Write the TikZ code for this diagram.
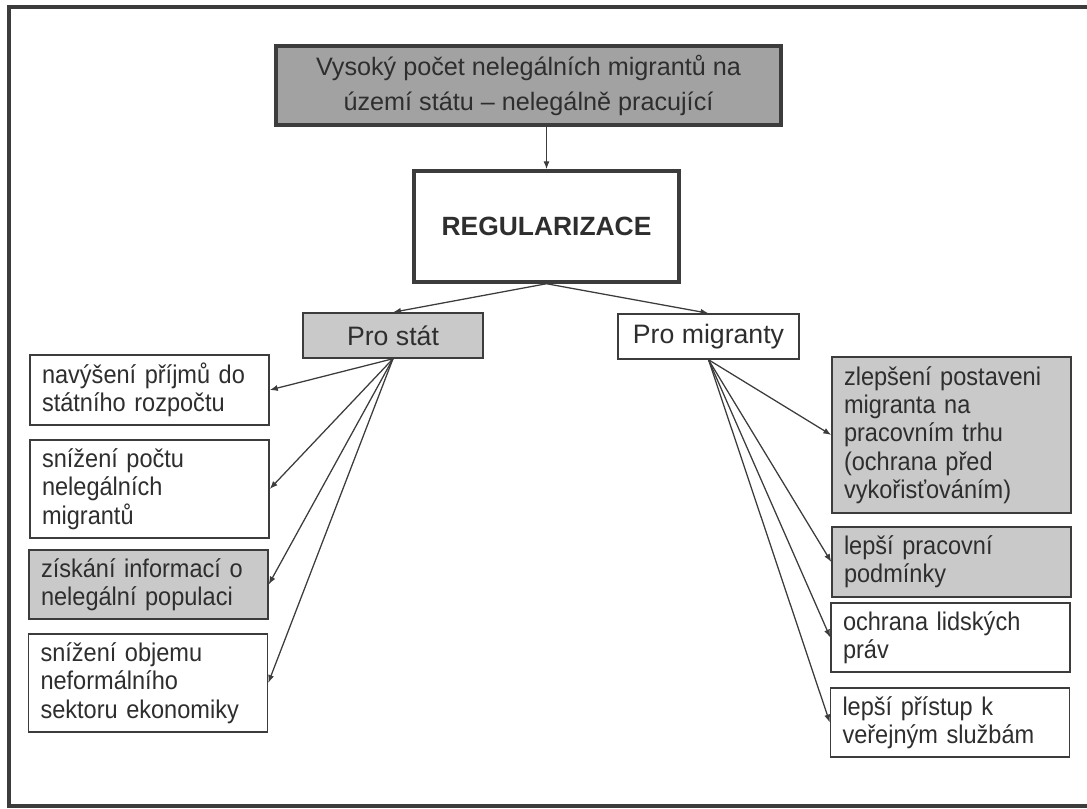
\documentclass[tikz,border=0pt]{standalone}
\usepackage{fontspec}
\setmainfont{Liberation Sans}
\newfontfamily\itemfont[FakeStretch=0.92]{Liberation Sans}
\usetikzlibrary{arrows.meta}
\definecolor{ink}{HTML}{2E2E2E}
\definecolor{edge}{HTML}{3C3C3C}
\definecolor{darkfill}{HTML}{A2A2A2}
\definecolor{lightfill}{HTML}{C9C9C9}
\tikzset{
  px/.style={x=0.75pt,y=-0.75pt},
  basebox/.style={draw=edge,line width=1.1pt,text=ink,inner sep=0pt,
    font=\itemfont\fontsize{19.2pt}{21.2pt}\selectfont},
  itembox/.style={basebox,minimum width=179.25pt,text width=161.25pt,align=left},
  headbox/.style={basebox,line width=2.6pt,align=center},
  tagbox/.style={basebox,font=\fontsize{20pt}{24pt}\selectfont,minimum height=33.75pt},
  conn/.style={draw=edge,line width=0.95pt,-{Latex[length=6pt,width=4.6pt]}}
}
\begin{document}
\begin{tikzpicture}[px]
\useasboundingbox (0,0) rectangle (1087,809);
\clip (0,0) rectangle (1087,809);
% outer frame (runs off the right edge)
\draw[edge,line width=2.3pt] (9,7) rectangle (1110,806);

% heading boxes
\node[headbox,fill=darkfill,minimum width=378.75pt,minimum height=59.25pt,
  font=\fontsize{18.9pt}{25.8pt}\selectfont] (top) at (528.5,85.5)
  {Vysoký počet nelegálních migrantů na\\území státu – nelegálně pracující};
\node[headbox,fill=white,minimum width=198.75pt,minimum height=83.25pt,
  font=\bfseries\fontsize{19.8pt}{24pt}\selectfont] (reg) at (546.5,226.5) {REGULARIZACE};

% branch labels
\node[tagbox,fill=lightfill,minimum width=135pt] (stat) at (393,335.5) {Pro stát};
\node[tagbox,fill=white,minimum width=135.75pt] (mig) at (708.5,336.5) {Pro migranty};

% benefits for the state
\node[itembox,fill=white,minimum height=52.5pt] (l1) at (149.5,390)
  {navýšení příjmů do\\státního rozpočtu};
\node[itembox,fill=white,minimum height=73.5pt] (l2) at (149.5,489)
  {snížení počtu\\nelegálních\\migrantů};
\node[itembox,fill=lightfill,minimum height=51.75pt] (l3) at (148.5,584.5)
  {získání informací o\\nelegální populaci};
\node[itembox,fill=white,minimum height=73.5pt] (l4) at (148,683)
  {snížení objemu\\neformálního\\sektoru ekonomiky};

% benefits for migrants
\node[itembox,fill=lightfill,minimum height=117pt] (r1) at (951.5,435)
  {zlepšení postaveni\\migranta na\\pracovním trhu\\(ochrana před\\vykořisťováním)};
\node[itembox,fill=lightfill,minimum height=52.5pt] (r2) at (951.5,562)
  {lepší pracovní\\podmínky};
\node[itembox,fill=white,minimum height=51.75pt] (r3) at (950.5,637.5)
  {ochrana lidských\\práv};
\node[itembox,fill=white,minimum height=51.75pt] (r4) at (950,722.5)
  {lepší přístup k\\veřejným službám};

% connectors
\draw[conn] (reg.north |- top.south) -- (reg.north);
\draw[conn] (reg.south) -- (stat.north);
\draw[conn] (reg.south) -- (mig.north);
\foreach \t in {l1,l2,l3,l4} \draw[conn] (stat.south) -- (\t.east);
\foreach \t in {r1,r2,r3,r4} \draw[conn] (mig.south) -- (\t.west);
\end{tikzpicture}
\end{document}
